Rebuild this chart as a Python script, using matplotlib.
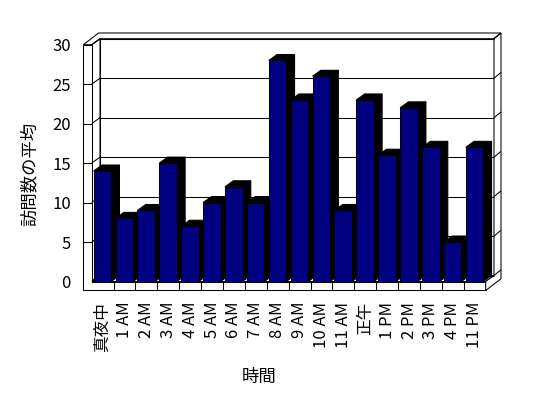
import matplotlib
matplotlib.use('Agg')
import matplotlib.pyplot as plt
from matplotlib.patches import Polygon
import numpy as np

hours = ['真夜中', '1 AM', '2 AM', '3 AM', '4 AM', '5 AM', '6 AM', '7 AM', '8 AM',
         '9 AM', '10 AM', '11 AM', '正午', '1 PM', '2 PM', '3 PM', '4 PM', '11 PM']
visits = [14, 8, 9, 15, 7, 10, 12, 10, 28, 23, 26, 9, 23, 16, 22, 17, 5, 17]
yticks = [0, 5, 10, 15, 20, 25, 30]

plt.rcParams['font.family'] = ['Noto Sans CJK JP', 'DejaVu Sans']

fig = plt.figure(figsize=(5.48, 3.98), dpi=100)
ax = fig.add_axes([91.7 / 548, (398 - 281.5) / 398, 394 / 548, 236.8 / 398])
n = len(hours)
ymax = yticks[-1]
ax.set_xlim(0, n)
ax.set_ylim(0, ymax)

# depth offsets (data units) for the fake 3d look
D1 = np.array([0.379, 0.76])
D2 = np.array([0.699, 1.482])
wall = 0.384
slab = 1.14
lw = 0.75


def poly(pts, fc, z):
    ax.add_patch(Polygon(pts, closed=True, fc=fc, ec='black', lw=lw,
                         clip_on=False, zorder=z, joinstyle='miter'))


def line(a, b, z=2):
    ax.plot([a[0], b[0]], [a[1], b[1]], color='black', lw=lw,
            clip_on=False, zorder=z, solid_capstyle='butt')


def P(x, y, d=(0, 0)):
    return (x + d[0], y + d[1])


# walls and floor
poly([P(0, 0, D1), P(n, 0, D1), P(n, ymax, D1), P(0, ymax, D1)], 'white', 1)
poly([P(0, 0), P(0, 0, D1), P(0, ymax, D1), P(0, ymax)], 'white', 1)
poly([P(0, 0), P(n, 0), P(n, 0, D1), P(0, 0, D1)], 'white', 1)
poly([P(-wall, ymax), P(0, ymax), P(0, ymax, D1), P(n, ymax, D1),
      P(n, ymax, D2), P(-wall, ymax, D2)], 'white', 1)
poly([P(-wall, -slab), P(n, -slab), P(n, 0), P(0, 0), P(0, ymax),
      P(-wall, ymax)], 'white', 1)
poly([P(n, -slab), P(n, -slab, D2), P(n, ymax, D2), P(n, ymax, D1),
      P(n, 0, D1), P(n, 0)], 'white', 1)

for k in range(1, n):
    line(P(k, -slab), P(k, 0))

for v in yticks:
    if v > 0:
        line(P(-wall, v), P(0, v))
    line(P(0, v), P(0, v, D1))
    line(P(0, v, D1), P(n, v, D1))
    line(P(n, v, D1), P(n, v, D2))

# bars
for i, v in enumerate(visits):
    x0 = i + 0.09
    x1 = x0 + 0.8
    z = 3 + i * 0.01
    poly([P(x1, 0), P(x1, v), P(x1, v, D1), P(x1, 0, D1)], 'black', z)
    poly([P(x0, v), P(x1, v), P(x1, v, D1), P(x0, v, D1)], 'black', z)
    poly([P(x0, 0), P(x1, 0), P(x1, v), P(x0, v)], '#000080', z)

for s in ax.spines.values():
    s.set_visible(False)
ax.set_yticks(yticks)
ax.set_xticks(np.arange(n) + 0.5, hours, rotation=90)
ax.tick_params(axis='y', length=0, pad=15, labelsize=12)
ax.tick_params(axis='x', length=0, pad=14.5, labelsize=12)

ax.set_ylabel('訪問数の平均', fontsize=12.5, va='center')
ax.yaxis.set_label_coords(-0.157, 0.455)
ax.set_xlabel('時間', fontsize=12.5, va='center')
ax.xaxis.set_label_coords(0.425, -0.402)

fig.savefig('out.png', dpi=100)
